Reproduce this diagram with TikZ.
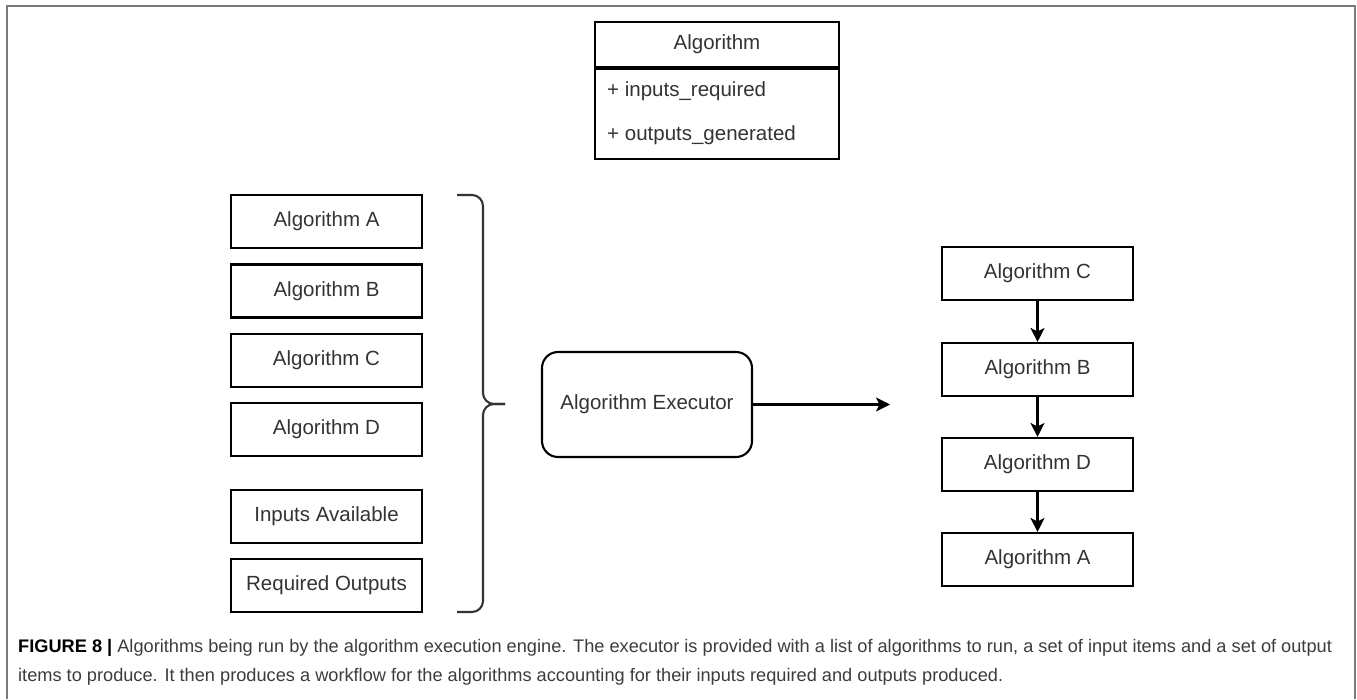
\documentclass[tikz,border=0pt]{standalone}
\usepackage{fontspec}
\setmainfont{Liberation Sans}
\usetikzlibrary{arrows.meta}
\definecolor{txt}{HTML}{333333}
\definecolor{capgray}{HTML}{3C3C3C}
\definecolor{framegray}{HTML}{7A7A7A}
\tikzset{
  algbox/.style={draw=black, line width=2.1pt, minimum width=191pt, minimum height=53pt,
    inner sep=0pt, text=txt, font=\fontsize{20.5}{24}\selectfont},
  execbox/.style={algbox, minimum width=210pt, minimum height=105pt, rounded corners=16pt},
  umlcell/.style={draw=black, line width=2.1pt, minimum width=244pt, inner sep=0pt},
  umltext/.style={text=txt, font=\fontsize{20.5}{24}\selectfont, inner sep=0pt},
  flow/.style={line width=2.1pt, -{Stealth[length=14pt, width=14pt, inset=3.5pt]}},
  captext/.style={anchor=base west, inner sep=0pt, text=capgray, font=\fontsize{18.2}{22}\selectfont}
}
\begin{document}
\begin{tikzpicture}[x=1pt, y=-1pt]
\useasboundingbox (0,0) rectangle (1357,699);
% outer frame
\draw[framegray, line width=2pt] (7,699) -- (7,6) -- (1355,6) -- (1355,699);

% class box
\node[umlcell, minimum height=45pt, umltext] (umlhead) at (717,44.5) {Algorithm};
\node[umlcell, minimum height=90pt, anchor=north] (umlbody) at (umlhead.south) {};
\node[umltext, anchor=west] (attrin) at (607,91) {+ inputs\_required};
\node[umltext, anchor=west] (attrout) at (607,135) {+ outputs\_generated};

% list of inputs to the executor
\node[algbox] (inA) at (326.5,221.5) {Algorithm A};
\node[algbox] (inB) at (326.5,291) {Algorithm B};
\node[algbox] (inC) at (326.5,360.5) {Algorithm C};
\node[algbox] (inD) at (326.5,429.5) {Algorithm D};
\node[algbox] (inIn) at (326.5,516.5) {Inputs Available};
\node[algbox] (inOut) at (326.5,585.5) {Required Outputs};

% curly bracket grouping the inputs
\draw[black!80, line width=2.1pt, rounded corners=11pt]
  (457,195) -- (483,195) -- (483,404) -- (505,404);
\draw[black!80, line width=2.1pt, rounded corners=11pt]
  (457,612) -- (483,612) -- (483,404) -- (505,404);

% executor
\node[execbox] (exec) at (647,404.5) {Algorithm Executor};
\coordinate (outTip) at (890,404.5);
\draw[flow] (exec.east) -- (outTip);

% resulting workflow
\node[algbox] (wfC) at (1037.5,273.5) {Algorithm C};
\node[algbox] (wfB) at (1037.5,369.5) {Algorithm B};
\node[algbox] (wfD) at (1037.5,464.5) {Algorithm D};
\node[algbox] (wfA) at (1037.5,559.5) {Algorithm A};
\draw[flow] (wfC) -- (wfB);
\draw[flow] (wfB) -- (wfD);
\draw[flow] (wfD) -- (wfA);

% caption
\node[captext] (cap1) at (18,652) {\textbf{\color{black}FIGURE 8 |} Algorithms being run by the algorithm execution engine. The executor is provided with a list of algorithms to run, a set of input items and a set of output};
\node[captext] (cap2) at (18,681) {items to produce. It then produces a workflow for the algorithms accounting for their inputs required and outputs produced.};
\end{tikzpicture}
\end{document}
